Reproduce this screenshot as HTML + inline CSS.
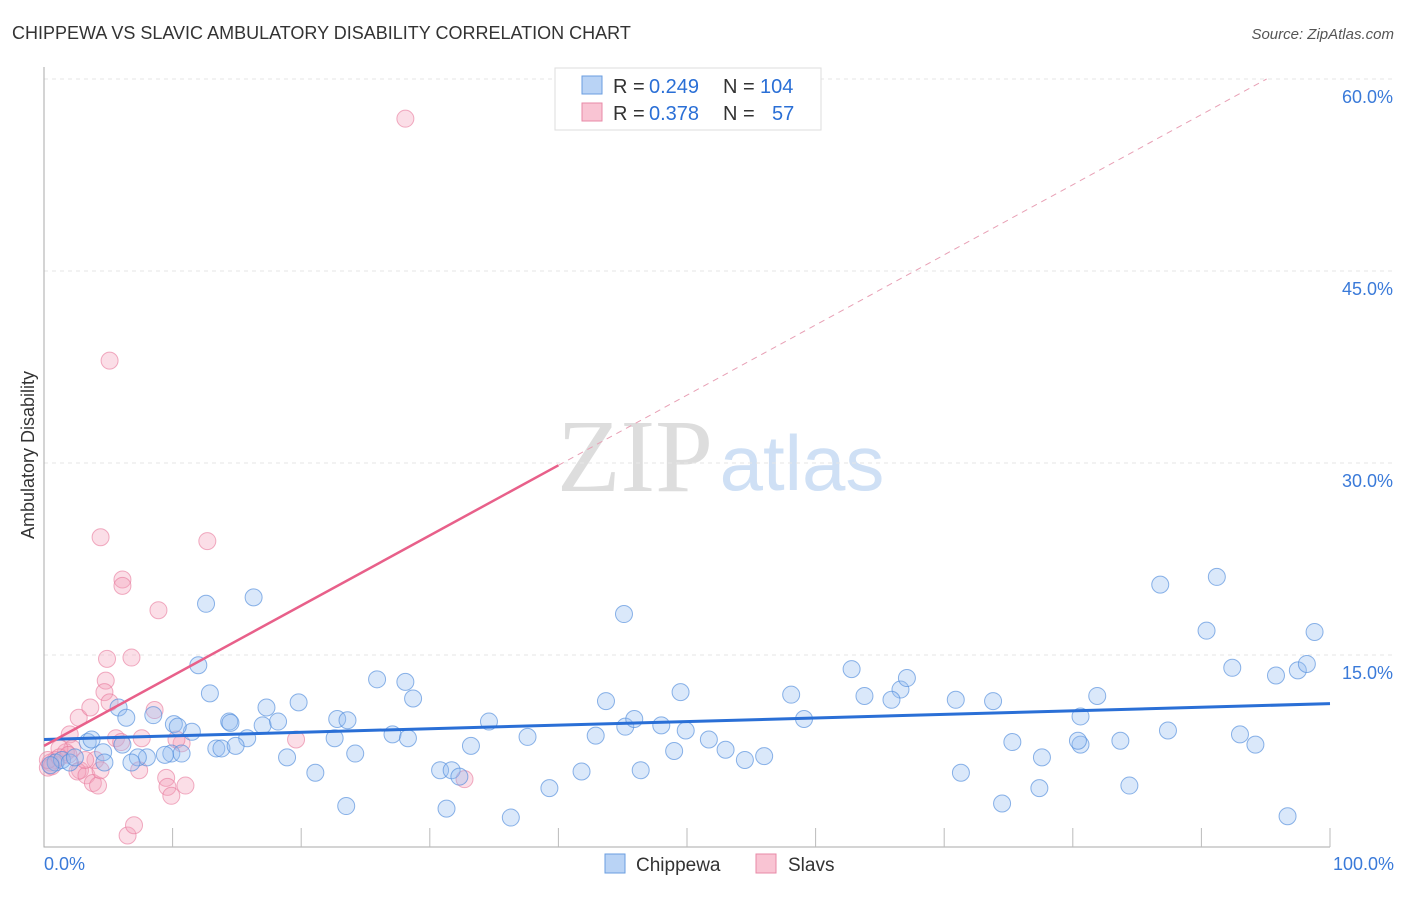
<!DOCTYPE html>
<html><head><meta charset="utf-8"><style>
body{margin:0;background:#fff;font-family:"Liberation Sans",sans-serif}
</style></head><body>
<svg id="c" width="1406" height="892" xmlns="http://www.w3.org/2000/svg">
<text x="12" y="39" font-size="18" fill="#333">CHIPPEWA VS SLAVIC AMBULATORY DISABILITY CORRELATION CHART</text>
<text x="1394" y="39" font-size="15" fill="#555" font-style="italic" text-anchor="end">Source: ZipAtlas.com</text>
<text x="635" y="491" font-size="104" fill="#ddd" font-family="Liberation Serif" text-anchor="middle">ZIP</text>
<text x="802" y="490" font-size="78" fill="#cfe0f5" text-anchor="middle">atlas</text>
<text transform="translate(34,455) rotate(-90)" font-size="18" fill="#333" text-anchor="middle">Ambulatory Disability</text>
<g id="grid"></g><g id="pts"></g><g id="lines"></g>
<g>
<rect x="555" y="68" width="266" height="62" fill="#fff" stroke="#ddd"/>
<rect x="582" y="76" width="20" height="18" fill="#b9d3f5" stroke="#6a9ee0"/>
<rect x="582" y="103" width="20" height="18" fill="#f9c4d3" stroke="#e88aa7"/>
<text x="613" y="93" font-size="20" fill="#333">R =</text>
<text x="649" y="93" font-size="20" fill="#2a6fd6">0.249</text>
<text x="723" y="93" font-size="20" fill="#333">N =</text>
<text x="760" y="93" font-size="20" fill="#2a6fd6">104</text>
<text x="613" y="120" font-size="20" fill="#333">R =</text>
<text x="649" y="120" font-size="20" fill="#2a6fd6">0.378</text>
<text x="723" y="120" font-size="20" fill="#333">N =</text>
<text x="772" y="120" font-size="20" fill="#2a6fd6">57</text>
</g>
<g>
<rect x="605" y="854" width="20" height="19" fill="#b9d3f5" stroke="#6a9ee0"/>
<text x="636" y="871" font-size="19" fill="#333">Chippewa</text>
<rect x="756" y="854" width="20" height="19" fill="#f9c4d3" stroke="#e88aa7"/>
<text x="788" y="871" font-size="19" fill="#333">Slavs</text>
</g>
</svg>
<script>
const NS="http://www.w3.org/2000/svg";
const yTicks=[15,30,45,60];
const yTickLabels=["15.0%","30.0%","45.0%","60.0%"];
const xTickLabels=["0.0%","100.0%"];
const bluePx=[[206,604],[254,597],[624,614],[1160,585],[1217,577],[1206,631],[1315,632],[198,665],[210,693],[266,707],[299,702],[377,679],[405,682],[413,698],[606,701],[681,692],[791,695],[851,669],[865,696],[900,690],[907,678],[891,700],[956,700],[993,701],[1097,696],[1232,668],[1276,675],[1298,670],[1307,664],[118,708],[126,718],[153,715],[174,724],[192,732],[178,727],[229,722],[230,723],[262,725],[278,722],[337,719],[348,720],[335,738],[247,738],[216,748],[222,748],[236,746],[171,754],[181,754],[165,755],[147,758],[138,757],[103,752],[88,742],[92,740],[105,762],[132,762],[287,758],[355,754],[315,773],[392,735],[408,738],[489,721],[471,746],[527,737],[596,736],[625,727],[634,719],[661,726],[686,731],[709,740],[674,751],[726,750],[745,760],[764,756],[804,719],[1081,744],[1080,717],[1078,741],[1121,741],[1168,731],[1240,734],[1256,745],[1042,757],[961,773],[440,770],[452,770],[459,777],[581,772],[641,770],[550,788],[346,806],[447,808],[511,817],[1002,803],[1040,788],[1129,786],[1287,816],[55,762],[62,760],[50,765],[70,762],[75,757],[122,745],[1013,742]];
const pinkPx=[[405,119],[110,360],[101,537],[207,541],[122,580],[123,586],[158,610],[107,659],[131,658],[106,681],[104,692],[110,703],[79,718],[90,708],[154,710],[116,738],[121,742],[142,738],[182,743],[176,740],[296,739],[70,735],[72,748],[66,752],[60,748],[56,760],[50,762],[48,768],[52,766],[80,770],[77,771],[87,775],[93,783],[98,786],[139,770],[166,778],[168,787],[171,796],[185,786],[464,779],[128,835],[134,825],[95,760],[85,760],[100,770],[48,760],[60,758],[68,755]];
const blueX=bluePx.map(p=>+((p[0]-44)/12.86).toFixed(1));
const blueY=bluePx.map(p=>+((847-p[1])/12.8).toFixed(1));
const pinkX=pinkPx.map(p=>+((p[0]-44)/12.86).toFixed(1));
const pinkY=pinkPx.map(p=>+((847-p[1])/12.8).toFixed(1));
const blueFit=[8.4,11.2];
const pinkFit=[7.9,0.548];
const sx=v=>44+v*12.86, sy=v=>847-v*12.8;
const grid=document.getElementById('grid');
function el(t,a,p){const e=document.createElementNS(NS,t);for(const k in a)e.setAttribute(k,a[k]);p.appendChild(e);return e;}
yTicks.forEach((t,i)=>{
 const l=el('line',{x1:44,x2:1394,y1:sy(t),y2:sy(t),stroke:'#e6e6e6','stroke-dasharray':'4,4'},grid);
 
 
 const tx=el('text',{x:1393,y:sy(t)+24,'font-size':18,fill:'#3a7ad9','text-anchor':'end'},grid);
 tx.textContent=yTickLabels[i];
 
 
});
const ax=el('path',{d:'M44 67V847H1330',stroke:'#aaa',fill:'none'},grid);


for(let i=1;i<=10;i++){const t=el('line',{x1:sx(i*10),x2:sx(i*10),y1:828,y2:847,stroke:'#bbb'},grid);
 
 }
[[0,'start',44],[1,'end',1394]].forEach(([i,a,x])=>{const t=el('text',{x:x,y:870,'font-size':18,fill:'#3a7ad9','text-anchor':a},grid);t.textContent=xTickLabels[i];
 
 });
const pts=document.getElementById('pts');
pinkX.forEach((x,i)=>{const c=el('circle',{cx:sx(x),cy:sy(pinkY[i]),r:8.5,fill:'rgba(244,160,185,0.35)',stroke:'rgba(232,120,155,0.6)'},pts);
 
 });
blueX.forEach((x,i)=>{const c=el('circle',{cx:sx(x),cy:sy(blueY[i]),r:8.5,fill:'rgba(150,190,240,0.35)',stroke:'rgba(80,140,220,0.65)'},pts);
 
 });
const L=document.getElementById('lines');
const b=el('line',{x1:sx(0),y1:sy(blueFit[0]),x2:sx(100),y2:sy(blueFit[1]),stroke:'#2a6fd6','stroke-width':3},L);


const pe=40, pd=(60-pinkFit[0])/pinkFit[1];
const p1=el('line',{x1:sx(0),y1:sy(pinkFit[0]),x2:sx(pe),y2:sy(pinkFit[0]+pinkFit[1]*pe),stroke:'#e8608a','stroke-width':2.5},L);


const p2=el('line',{x1:sx(pe),y1:sy(pinkFit[0]+pinkFit[1]*pe),x2:sx(pd),y2:sy(60),stroke:'#e8a0b5','stroke-width':1,'stroke-dasharray':'6,5'},L);


</script>
</body></html>
